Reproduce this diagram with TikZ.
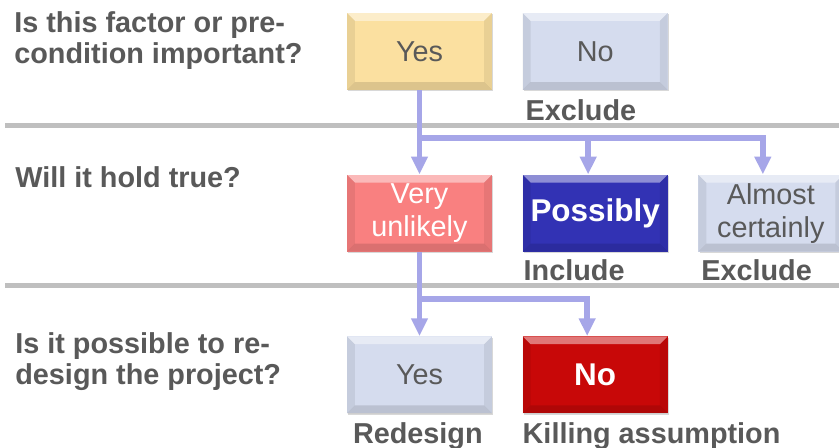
\documentclass[tikz,border=0pt]{standalone}
\usepackage{fontspec}
\setmainfont{Liberation Sans}
\usetikzlibrary{arrows.meta,positioning,calc,shadows}
\definecolor{TxtGray}{HTML}{595959}
\definecolor{LinkLav}{HTML}{A6A6E8}
\definecolor{RuleGray}{HTML}{BFBFBF}
\definecolor{BoxGold}{HTML}{FBE0A0}
\definecolor{BoxPale}{HTML}{D5DCEE}
\definecolor{BoxPink}{HTML}{F98080}
\definecolor{BoxNavy}{HTML}{3232B4}
\definecolor{BoxRed}{HTML}{C80808}

\begin{document}
\begin{tikzpicture}[x=0.02cm,y=0.02cm,node distance=1.68cm and 0.6cm,
  bevel/.style={path picture={
    \fill[white,opacity=.45] (path picture bounding box.north west) -- (path picture bounding box.north east)
      -- ([shift={(-4.5pt,-4.5pt)}]path picture bounding box.north east) -- ([shift={(4.5pt,-4.5pt)}]path picture bounding box.north west) -- cycle;
    \fill[black,opacity=.07] (path picture bounding box.north west) -- ([shift={(4.5pt,-4.5pt)}]path picture bounding box.north west)
      -- ([shift={(4.5pt,4.5pt)}]path picture bounding box.south west) -- (path picture bounding box.south west) -- cycle;
    \fill[black,opacity=.07] (path picture bounding box.north east) -- ([shift={(-4.5pt,-4.5pt)}]path picture bounding box.north east)
      -- ([shift={(-4.5pt,4.5pt)}]path picture bounding box.south east) -- (path picture bounding box.south east) -- cycle;
    \fill[black,opacity=.12] (path picture bounding box.south west) -- ([shift={(4.5pt,4.5pt)}]path picture bounding box.south west)
      -- ([shift={(-4.5pt,4.5pt)}]path picture bounding box.south east) -- (path picture bounding box.south east) -- cycle;}},
  b/.style={bevel,minimum width=2.9cm,minimum height=1.54cm,inner sep=0pt,align=center,
    drop shadow={opacity=.3,shadow xshift=.8pt,shadow yshift=-.8pt},
    font=\fontsize{16.4}{18.7}\selectfont},
  pale/.style={b,fill=BoxPale,text=TxtGray},
  hot/.style={b,text=white,font=\fontsize{17.9}{20}\selectfont\bfseries},
  q/.style={anchor=north west,inner sep=0pt,align=left,text=TxtGray,font=\fontsize{16.4}{17.8}\selectfont\bfseries},
  lbl/.style={anchor=base west,inner sep=0pt,text=TxtGray,font=\fontsize{16.4}{17.8}\selectfont\bfseries},
  link/.style={line width=3.4pt,draw=LinkLav},
  flow/.style={link,-{Triangle[width=9pt,length=10pt]}}]
\useasboundingbox[fill=white] (0,0) rectangle (839,-448);

% rows
\draw[RuleGray,line width=2.3pt] (5,-125.5) -- (839,-125.5);
\draw[RuleGray,line width=2.3pt] (5,-285.5) -- (839,-285.5);

% questions
\node[q] (q1) at (14,-11) {Is this factor or pre-\\condition important?};
\node[q] (q2) at (15,-166) {Will it hold true?};
\node[q] (q3) at (15,-332) {Is it possible to re-\\design the project?};

% boxes
\node[b,fill=BoxGold,text=TxtGray] (yes1) at (419.5,-51.5) {Yes};
\node[pale,right=of yes1] (no1) {No};
\node[b,fill=BoxPink,text=white,below=of yes1] (unl) {Very\\unlikely};
\node[hot,fill=BoxNavy,right=of unl] (poss) {Possibly};
\node[pale,right=of poss] (cert) {Almost\\certainly};
\node[pale,below=of unl] (yes3) {Yes};
\node[hot,fill=BoxRed,right=of yes3] (no3) {No};

% outcomes
\node[lbl] (exc1) at ($(no1.south west)+(3,-30)$) {Exclude};
\node[lbl] (inc) at ($(poss.south west)+(1,-28)$) {Include};
\node[lbl] (exc2) at ($(cert.south west)+(3,-28)$) {Exclude};
\node[lbl] (red) at ($(yes3.south west)+(6,-30)$) {Redesign};
\node[lbl] (kill) at ($(no3.south west)+(0,-30)$) {Killing assumption};

% connectors
\coordinate (j1) at ($(yes1.south)+(0,-48)$);
\coordinate (j2) at ($(unl.south)+(0,-47)$);
\draw[flow] (yes1.south) -- (unl.north);
\draw[flow] (j1) -| ($(poss.north)+(-7,0)$);
\draw[flow] (j1) -| ($(cert.north)+(-8,0)$);
\draw[flow] (unl.south) -- (yes3.north);
\draw[flow] (j2) -| ($(no3.north)+(-8,0)$);
\end{tikzpicture}
\end{document}
